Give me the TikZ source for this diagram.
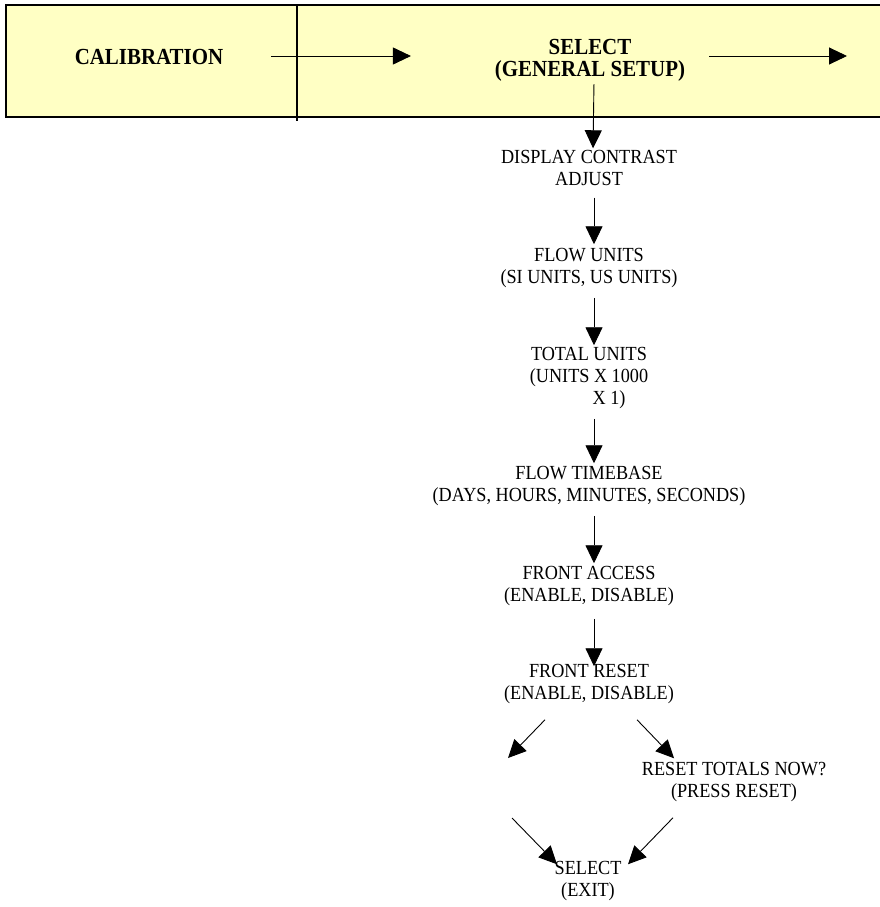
\documentclass[tikz,border=0pt]{standalone}
\usepackage{fontspec}
\setmainfont{Liberation Serif}[FakeStretch=0.91]
\usepackage{xcolor}
\usetikzlibrary{arrows.meta}

\definecolor{bannerfill}{RGB}{255,255,196}

\begin{document}
\begin{tikzpicture}[
    x=1pt, y=-1pt,
    menu/.style={align=center, inner sep=0pt, outer sep=0pt, font=\fontsize{20}{22}\selectfont},
    head/.style={align=center, inner sep=0pt, outer sep=0pt, font=\fontsize{23}{22}\selectfont\bfseries},
    arr/.style={-{Triangle[length=18pt,width=17pt]}, line width=0.9pt}
]
    \useasboundingbox (0,0) rectangle (880,907);

    % Banner
    \fill[bannerfill] (6,5) rectangle (880,117);
    \draw[line width=2pt] (880,5) -- (6,5) -- (6,117) -- (880,117);
    \draw[line width=1.5pt] (297,5) -- (297,121);

    \node[head] (cal) at (149,57) {CALIBRATION};
    \node[head] (sel) at (590,60) {SELECT\\(GENERAL SETUP)};
    \coordinate (nextstep) at (847,56);

    \draw[arr] ([shift={(48,-1)}]cal.east) -- ([shift={(-84,-4)}]sel.west);
    \draw[arr] ([shift={(24,-4)}]sel.east) -- (nextstep);

    % Setup menu
    \node[menu] (disp) at (589,168) {DISPLAY CONTRAST\\ADJUST};
    \node[menu] (units) at (589,268) {FLOW UNITS\\(SI UNITS, US UNITS)};
    \node[menu] (total) at (589,378) {TOTAL UNITS\\(UNITS X 1000\\\hspace*{40pt}X 1)};
    \node[menu] (time) at (589,486) {FLOW TIMEBASE\\(DAYS, HOURS, MINUTES, SECONDS)};
    \node[menu] (access) at (589,586) {FRONT ACCESS\\(ENABLE, DISABLE)};
    \node[menu] (freset) at (589,684) {FRONT RESET\\(ENABLE, DISABLE)};
    \node[menu] (rtot) at (734,782) {RESET TOTALS NOW?\\(PRESS RESET)};
    \node[menu] (exitsel) at (588,881) {SELECT\\(EXIT)};

    \draw[arr, shorten <=3pt, shorten >=2pt] ([xshift=4pt]sel.south) -- ([xshift=4pt]disp.north);
    \draw[arr, shorten <=12pt, shorten >=4pt] ([xshift=5pt]disp.south) -- ([xshift=5pt]units.north);
    \draw[arr, shorten <=10pt, shorten >=2pt] ([xshift=5pt]units.south) -- ([xshift=5pt]total.north);
    \draw[arr, shorten <=10pt, shorten >=3pt] ([xshift=5pt]total.south) -- ([xshift=5pt]time.north);
    \draw[arr, shorten <=10pt, shorten >=3pt] ([xshift=5pt]time.south) -- ([xshift=5pt]access.north);
    \draw[arr, shorten <=13pt, shorten >=-2pt] ([xshift=5pt]access.south) -- ([xshift=5pt]freset.north);

    % Reset branch
    \coordinate (skipend) at (508,758);
    \coordinate (skipstart) at (512,818);
    \draw[arr] ([shift={(-44,16)}]freset.south) -- (skipend);
    \draw[arr] ([shift={(48,16)}]freset.south) -- ([shift={(-60,-4)}]rtot.north);
    \draw[arr] (skipstart) -- ([shift={(-31,3)}]exitsel.north);
    \draw[arr] ([shift={(-61,16)}]rtot.south) -- ([shift={(40,3)}]exitsel.north);

\end{tikzpicture}
\end{document}
